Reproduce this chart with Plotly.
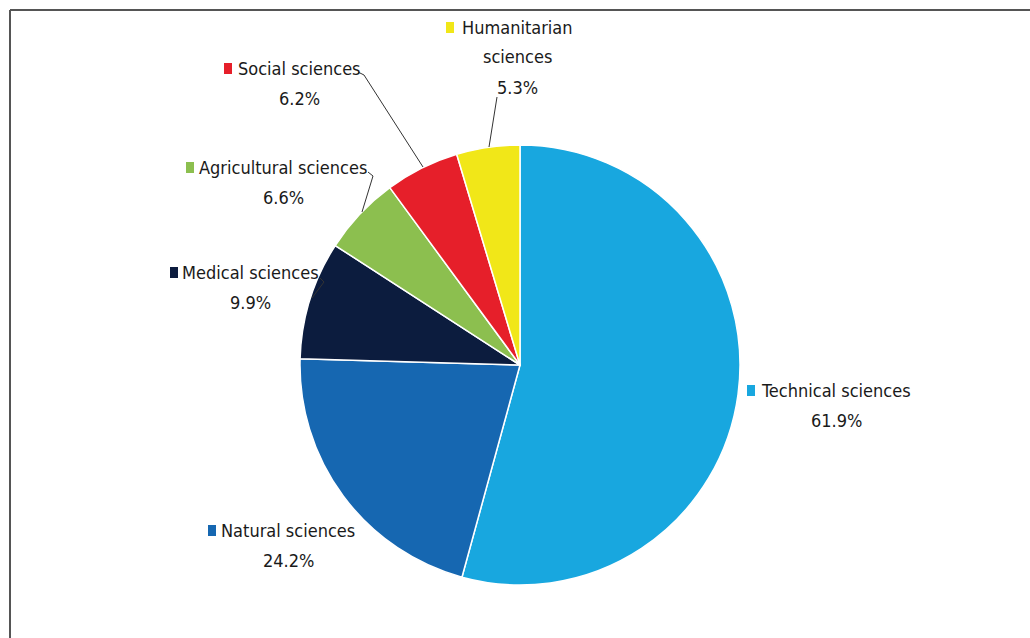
import plotly.graph_objects as go

# ---- data ----
categories = ["Technical sciences", "Natural sciences", "Medical sciences",
              "Agricultural sciences", "Social sciences", "Humanitarian sciences"]
values = [61.9, 24.2, 9.9, 6.6, 6.2, 5.3]
colors = ["#18A7DF", "#1667B1", "#0C1C3E", "#8CBF4F", "#E61F2A", "#F1E718"]

W, H = 1030, 638
FONT = "DejaVu Sans Condensed, sans-serif"
TXT = "#1A1A1A"


def px(x):
    return x / W


def py(y):
    return 1 - y / H


# pie placement (pixels)
CX, CY, R = 520, 365, 220

fig = go.Figure()
fig.add_trace(go.Pie(
    labels=categories,
    values=values,
    sort=False,
    direction="clockwise",
    rotation=0,
    marker=dict(colors=colors, line=dict(color="white", width=1.5)),
    textinfo="none",
    hoverinfo="label+value",
    showlegend=False,
    domain=dict(x=[px(CX - R), px(CX + R)], y=[py(CY + R), py(CY - R)]),
))

# label layout: (category index, text lines, centre x of text, first line y, marker x)
label_layout = [
    (0, ["Technical sciences"], 836, 390, 751),
    (1, ["Natural sciences"], 288, 530, 212),
    (2, ["Medical sciences"], 250, 272, 174),
    (3, ["Agricultural sciences"], 283, 167, 190),
    (4, ["Social sciences"], 299, 68, 228),
    (5, ["Humanitarian", "sciences"], 517, 27, 450),
]
LINE = 30

annotations = []
shapes = []
for idx, lines, cx, y0, mx in label_layout:
    all_lines = lines + [f"{values[idx]}%"]
    for k, t in enumerate(all_lines):
        annotations.append(dict(
            x=px(cx), y=py(y0 + k * LINE), xref="paper", yref="paper",
            text=t, showarrow=False, xanchor="center", yanchor="middle",
            font=dict(family=FONT, size=18, color=TXT)))
    shapes.append(dict(type="rect", xref="paper", yref="paper",
                       x0=px(mx - 4), x1=px(mx + 4), y0=py(y0 - 5), y1=py(y0 + 6),
                       fillcolor=colors[idx], line=dict(width=0)))

# leader lines (pixel paths)
leaders = [
    [(497, 97), (489, 147)],
    [(358, 72), (364, 75), (423, 167)],
    [(368, 172), (373, 176), (362, 212)],
    [(320, 278), (324, 282), (312, 298)],
]
for pts in leaders:
    path = "M " + " L ".join(f"{px(x)},{py(y)}" for x, y in pts)
    shapes.append(dict(type="path", xref="paper", yref="paper", path=path,
                       line=dict(color="#333333", width=1)))

# frame lines
shapes.append(dict(type="line", xref="paper", yref="paper",
                   x0=px(10), x1=1, y0=py(10), y1=py(10),
                   line=dict(color="#555555", width=2)))
shapes.append(dict(type="line", xref="paper", yref="paper",
                   x0=px(10), x1=px(10), y0=py(10), y1=0,
                   line=dict(color="#555555", width=2)))

fig.update_layout(
    width=W, height=H,
    margin=dict(l=0, r=0, t=0, b=0),
    paper_bgcolor="white", plot_bgcolor="white",
    annotations=annotations, shapes=shapes,
    font=dict(family=FONT, color=TXT),
)

fig.write_html("out.html")
